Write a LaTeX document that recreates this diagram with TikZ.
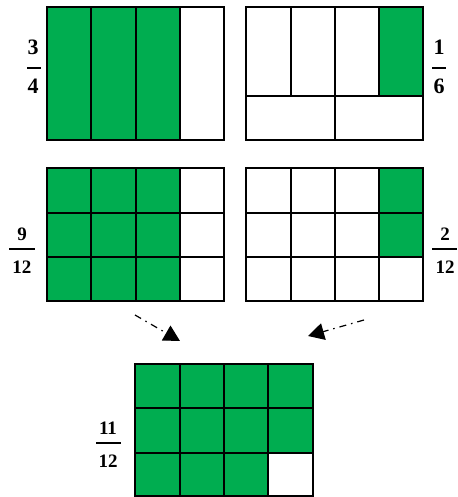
\documentclass[tikz,border=0pt]{standalone}
\usepackage{fontspec}
\setmainfont{Liberation Serif}
\usetikzlibrary{arrows.meta}
\definecolor{fillgreen}{RGB}{0,173,80}
\tikzset{
  gridline/.style={line width=1.3pt, line cap=rect},
  cellfill/.style={fill=fillgreen},
  fracbig/.style={font=\fontsize{22}{22}\selectfont\bfseries, inner sep=0pt},
  fracsmall/.style={font=\fontsize{19}{19}\selectfont\bfseries, inner sep=0pt},
  fracbar/.style={line width=2.5pt},
  joinarrow/.style={line width=1.2pt, dash pattern=on 7pt off 5pt on 1.5pt off 5pt,
     -{Triangle[length=16pt,width=17pt]}}
}
\begin{document}
\begin{tikzpicture}[x=1pt,y=-1pt]
\useasboundingbox (0,0) rectangle (457,497);
% ---------- panel 1 : 3/4 ----------
\fill[cellfill] (47,7) rectangle (180,140);
\draw[gridline] (47,7) rectangle (224,140);
\foreach \x in {91,136,180} \draw[gridline] (\x,7) -- (\x,140);
\node[fracbig] (n34) at (33,47) {3};
\draw[fracbar] (27,68) -- (41,68);
\node[fracbig] (d34) at (33,86) {4};
% ---------- panel 2 : 1/6 ----------
\fill[cellfill] (379,7) rectangle (423,96);
\draw[gridline] (246,7) rectangle (423,140);
\draw[gridline] (246,96) -- (423,96);
\foreach \x in {291,335,379} \draw[gridline] (\x,7) -- (\x,96);
\draw[gridline] (335,96) -- (335,140);
\node[fracbig] (n16) at (439,47) {1};
\draw[fracbar] (432,68) -- (446,68);
\node[fracbig] (d16) at (439,86) {6};
% ---------- panel 3 : 9/12 ----------
\fill[cellfill] (47,168) rectangle (180,301);
\draw[gridline] (47,168) rectangle (224,301);
\foreach \x in {91,136,180} \draw[gridline] (\x,168) -- (\x,301);
\foreach \y in {213,257} \draw[gridline] (47,\y) -- (224,\y);
\node[fracsmall] (n912) at (22,234) {9};
\draw[fracbar] (9,249) -- (35,249);
\node[fracsmall] (d912) at (22,267) {12};
% ---------- panel 4 : 2/12 ----------
\fill[cellfill] (379,168) rectangle (423,257);
\draw[gridline] (246,168) rectangle (423,301);
\foreach \x in {291,335,379} \draw[gridline] (\x,168) -- (\x,301);
\foreach \y in {213,257} \draw[gridline] (246,\y) -- (423,\y);
\node[fracsmall] (n212) at (445,234) {2};
\draw[fracbar] (432,249) -- (457,249);
\node[fracsmall] (d212) at (445,267) {12};
% ---------- panel 5 : 11/12 ----------
\fill[cellfill] (135,364) rectangle (313,453);
\fill[cellfill] (135,453) rectangle (268,496);
\draw[gridline] (135,364) rectangle (313,496);
\foreach \x in {180,224,268} \draw[gridline] (\x,364) -- (\x,496);
\foreach \y in {408,453} \draw[gridline] (135,\y) -- (313,\y);
\node[fracsmall] (n1112) at (108,428) {11};
\draw[fracbar] (96,443) -- (121,443);
\node[fracsmall] (d1112) at (108,461) {12};
% ---------- arrows ----------
\coordinate (la) at (135,315);
\coordinate (lb) at (180,341);
\coordinate (ra) at (364,320);
\coordinate (rb) at (308,336);
\draw[joinarrow] (la) -- (lb);
\draw[joinarrow] (ra) -- (rb);
\end{tikzpicture}
\end{document}
